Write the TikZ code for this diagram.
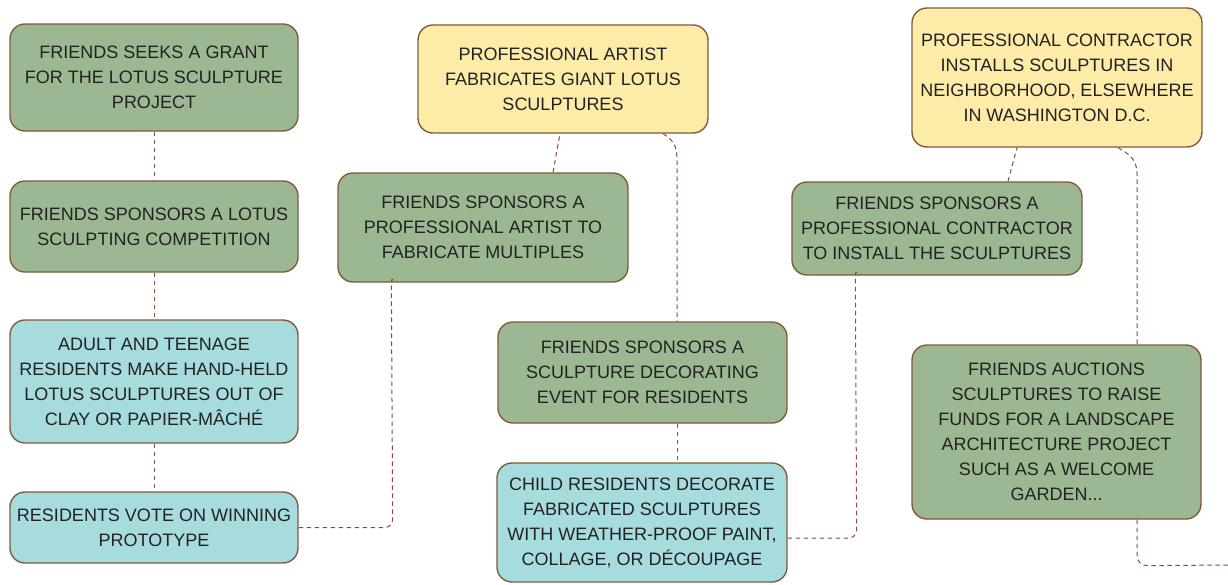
\documentclass[tikz,border=0pt]{standalone}
\usepackage{fontspec}
\setmainfont{Liberation Sans}
\usetikzlibrary{calc}
\definecolor{gfill}{HTML}{9CB892}
\definecolor{yfill}{HTML}{FDECA8}
\definecolor{bfill}{HTML}{A7DCDE}
\definecolor{bord}{HTML}{825A3C}
\definecolor{conncol}{HTML}{8A4B3B}
\definecolor{txt}{HTML}{222222}
\begin{document}
\begin{tikzpicture}[x=1pt,y=-1pt,
  box/.style={draw=bord, line width=1.4pt, rounded corners=15pt, align=center, inner sep=0pt,
    font=\fontsize{18}{25}\selectfont, text=txt},
  gbox/.style={box, fill=gfill},
  ybox/.style={box, fill=yfill},
  bbox/.style={box, fill=bfill},
  conn/.style={draw=conncol, line width=1pt, dash pattern=on 4.5pt off 3.5pt}]
\useasboundingbox (0,0) rectangle (1228,584);
\node[gbox, minimum width=288pt, minimum height=107pt] (b1) at (154,77.5) {FRIENDS SEEKS A GRANT\\FOR THE LOTUS SCULPTURE\\PROJECT};
\node[gbox, minimum width=288pt, minimum height=91pt] (b2) at (154,226.5) {FRIENDS SPONSORS A LOTUS\\SCULPTING COMPETITION};
\node[bbox, minimum width=288pt, minimum height=123pt] (b3) at (154,381.5) {ADULT AND TEENAGE\\RESIDENTS MAKE HAND-HELD\\LOTUS SCULPTURES OUT OF\\CLAY OR PAPIER-MÂCHÉ};
\node[bbox, minimum width=288pt, minimum height=71pt] (b4) at (154,527.5) {RESIDENTS VOTE ON WINNING\\PROTOTYPE};
\node[gbox, minimum width=290pt, minimum height=109pt] (b5) at (483,227.5) {FRIENDS SPONSORS A\\PROFESSIONAL ARTIST TO\\FABRICATE MULTIPLES};
\node[ybox, minimum width=290pt, minimum height=108pt] (b6) at (563,79) {PROFESSIONAL ARTIST\\FABRICATES GIANT LOTUS\\SCULPTURES};
\node[gbox, minimum width=289pt, minimum height=101pt] (b7) at (642.5,372.5) {FRIENDS SPONSORS A\\SCULPTURE DECORATING\\EVENT FOR RESIDENTS};
\node[bbox, minimum width=290pt, minimum height=119pt] (b8) at (642,522.5) {CHILD RESIDENTS DECORATE\\FABRICATED SCULPTURES\\WITH WEATHER-PROOF PAINT,\\COLLAGE, OR DÉCOUPAGE};
\node[gbox, minimum width=290pt, minimum height=93pt] (b9) at (937,228.5) {FRIENDS SPONSORS A\\PROFESSIONAL CONTRACTOR\\TO INSTALL THE SCULPTURES};
\node[ybox, minimum width=290pt, minimum height=139pt] (b10) at (1057,77.5) {PROFESSIONAL CONTRACTOR\\INSTALLS SCULPTURES IN\\NEIGHBORHOOD, ELSEWHERE\\IN WASHINGTON D.C.};
\node[gbox, minimum width=289pt, minimum height=174pt] (b11) at (1056.5,432) {FRIENDS AUCTIONS\\SCULPTURES TO RAISE\\FUNDS FOR A LANDSCAPE\\ARCHITECTURE PROJECT\\SUCH AS A WELCOME\\GARDEN...};
\coordinate (endc) at (1228,565);
% connectors
\draw[conn] (b1.south) -- (b2.north);
\draw[conn] (b2.south) -- (b3.north);
\draw[conn] (b3.south) -- (b4.north);
\draw[conn, rounded corners=8pt] (b4.east) -- ($(b4.east)+(94,0)$) -- ($(b5.south west)+(54,-8)$) -- ($(b5.south west)+(57,0)$);
\draw[conn] ($(b5.north)+(70,0)$) -- ($(b6.south)+(-3,0)$);
\draw[conn] ($(b6.south)+(100,0)$) .. controls ($(b6.south)+(110,6)$) and ($(b6.south)+(114,12)$) .. ($(b6.south)+(114,26)$) -- ($(b7.north)+(34.5,0)$);
\draw[conn] ($(b7.south)+(34.5,0)$) -- ($(b8.north)+(35,0)$);
\draw[conn, rounded corners=8pt] ($(b8.east)+(0,15.5)$) -- ($(b8.east)+(69,15.5)$) -- ($(b9.south west)+(64,-8)$) -- ($(b9.south west)+(68,0)$);
\draw[conn] ($(b9.north)+(71,0)$) -- ($(b10.south)+(-40,0)$);
\draw[conn] ($(b10.south)+(61,0)$) .. controls ($(b10.south)+(72,6)$) and ($(b10.south)+(80,12)$) .. ($(b10.south)+(80,26)$) -- ($(b11.north)+(80.5,0)$);
\draw[conn, rounded corners=10pt] ($(b11.south)+(80.5,0)$) -- ($(b11.south)+(80.5,46)$) -- (endc);
\end{tikzpicture}
\end{document}
